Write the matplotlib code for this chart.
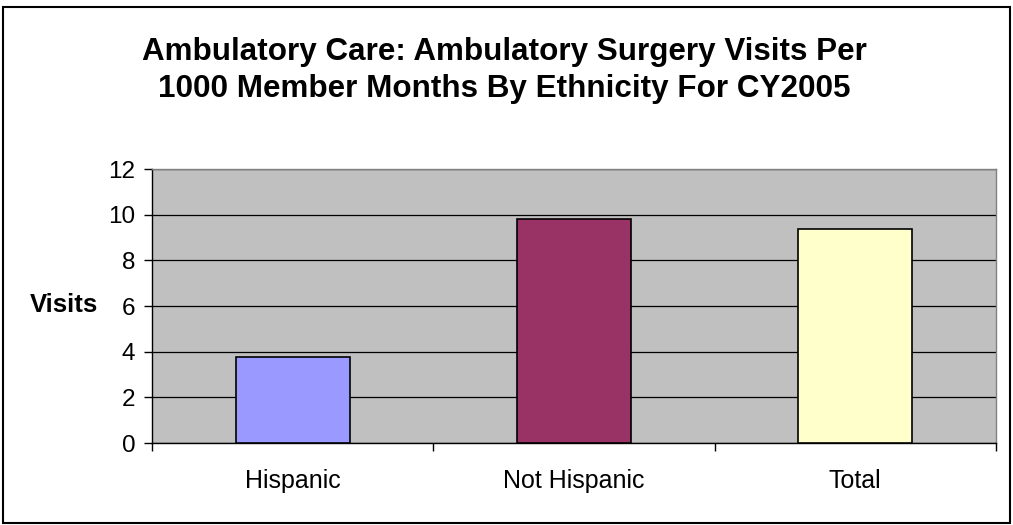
import matplotlib
matplotlib.use("Agg")
import matplotlib.pyplot as plt
import numpy as np

categories = ["Hispanic", "Not Hispanic", "Total"]
visits = [3.76, 9.81, 9.36]
bar_colors = ["#9999FF", "#993366", "#FFFFCC"]
y_ticks = [0, 2, 4, 6, 8, 10, 12]

plt.rcParams["font.family"] = ["Liberation Sans", "DejaVu Sans"]

fig = plt.figure(figsize=(10.13, 5.25), dpi=100)
ax = fig.add_axes([0.150, 0.156, 0.833, 0.522])

x = np.arange(len(categories))
ax.bar(x, visits, width=0.405, color=bar_colors, edgecolor="black",
       linewidth=1.2, zorder=3)

ax.set_facecolor("#C0C0C0")
ax.set_xlim(-0.5, len(categories) - 0.5)
ax.set_ylim(0, 12)
ax.set_yticks(y_ticks)
ax.yaxis.grid(True, color="black", linewidth=0.9, zorder=1)
ax.set_axisbelow(True)

ax.set_xticks(x)
ax.set_xticklabels(categories, fontsize=18)
ax.set_xticks(np.arange(len(categories) + 1) - 0.5, minor=True)
ax.tick_params(axis="x", which="major", length=0, pad=19)
ax.tick_params(axis="x", which="minor", length=6, width=1, color="black")
ax.tick_params(axis="y", length=6, width=1, labelsize=17.5, pad=6)

for side in ["top", "right"]:
    ax.spines[side].set_color("#808080")
    ax.spines[side].set_linewidth(1)
ax.spines["left"].set_linewidth(1)
ax.spines["bottom"].set_linewidth(1)

ax.set_ylabel("Visits", fontsize=18.5, fontweight="bold", rotation=0,
              ha="right", va="center")
ax.yaxis.set_label_coords(-0.064, 0.504)

fig.text(0.498, 0.866,
         "Ambulatory Care: Ambulatory Surgery Visits Per\n"
         "1000 Member Months By Ethnicity For CY2005",
         ha="center", va="center", fontsize=22.6, fontweight="bold",
         linespacing=1.3)

border = plt.Rectangle((0.003, 0.003), 0.994, 0.984, transform=fig.transFigure,
                       fill=False, edgecolor="black", linewidth=1.5)
fig.patches.append(border)

fig.savefig("out.png", dpi=100, facecolor="white")
plt.close(fig)
